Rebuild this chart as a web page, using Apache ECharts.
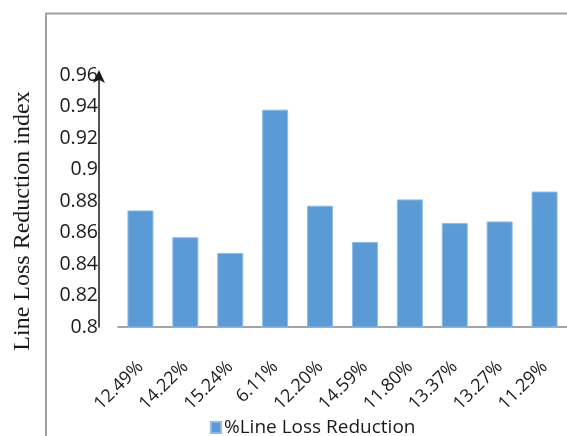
<!DOCTYPE html>
<html>
<head>
<meta charset="utf-8">
<script src="https://cdn.jsdelivr.net/npm/echarts@6/dist/echarts.min.js"></script>
<style>
  html, body { margin: 0; padding: 0; background: #ffffff; }
  #chart { width: 567px; height: 436px; }
</style>
</head>
<body>
<div id="chart"></div>
<script>
// Percent line loss reduction per case (category labels)
const categories = ['12.49%', '14.22%', '15.24%', '6.11%', '12.20%', '14.59%', '11.80%', '13.37%', '13.27%', '11.29%'];
// Line loss reduction index per case
const indexValues = [0.874, 0.857, 0.847, 0.938, 0.877, 0.854, 0.881, 0.866, 0.867, 0.886];
// Value axis range
const yMin = 0.8;
const yMax = 0.96;
const yStep = 0.02;

const chart = echarts.init(document.getElementById('chart'), null, { renderer: 'canvas' });

chart.setOption({
  backgroundColor: '#ffffff',
  animation: false,
  graphic: [
    {
      type: 'polyline',
      silent: true,
      shape: { points: [[46, 440], [46, 13.5], [570, 13.5]] },
      style: { stroke: '#a0a0a0', lineWidth: 2, fill: null }
    }
  ],
  grid: { left: 118, top: 75, width: 449, height: 252 },
  legend: {
    left: 205,
    top: 413,
    itemWidth: 10,
    itemHeight: 11,
    itemGap: 6,
    icon: 'rect',
    textStyle: { fontFamily: 'Open Sans', fontSize: 19, color: '#1a1a1a', padding: [0, 0, 0, -2] },
    data: ['%Line Loss Reduction']
  },
  xAxis: {
    type: 'category',
    data: categories,
    axisLine: { show: true, lineStyle: { color: '#868686', width: 1.5 } },
    axisTick: { show: false },
    axisLabel: {
      interval: 0,
      rotate: 45,
      margin: 37,
      fontFamily: 'Open Sans',
      fontSize: 18,
      color: '#1a1a1a'
    },
    splitLine: { show: false }
  },
  yAxis: {
    type: 'value',
    min: yMin,
    max: yMax,
    interval: yStep,
    offset: 19,
    name: 'Line Loss Reduction index',
    nameLocation: 'middle',
    nameGap: 64,
    nameRotate: 90,
    nameTextStyle: {
      fontFamily: 'Liberation Serif',
      fontSize: 24,
      color: '#1a1a1a',
      padding: [0, 40, 0, 0]
    },
    axisLine: {
      show: true,
      symbol: ['none', 'arrow'],
      symbolSize: [9, 13],
      symbolOffset: [0, 5],
      lineStyle: { color: '#1a1a1a', width: 1.5 }
    },
    axisTick: { show: false },
    axisLabel: {
      margin: 1,
      fontFamily: 'Open Sans',
      fontSize: 19.5,
      color: '#1a1a1a',
      formatter: function (v) { return String(Math.round(v * 100) / 100); }
    },
    splitLine: { show: false }
  },
  series: [
    {
      name: '%Line Loss Reduction',
      type: 'bar',
      data: indexValues,
      barWidth: 26,
      itemStyle: { color: '#5b9bd5', borderColor: '#8fbbe6', borderWidth: 1 }
    }
  ]
});
</script>
</body>
</html>
